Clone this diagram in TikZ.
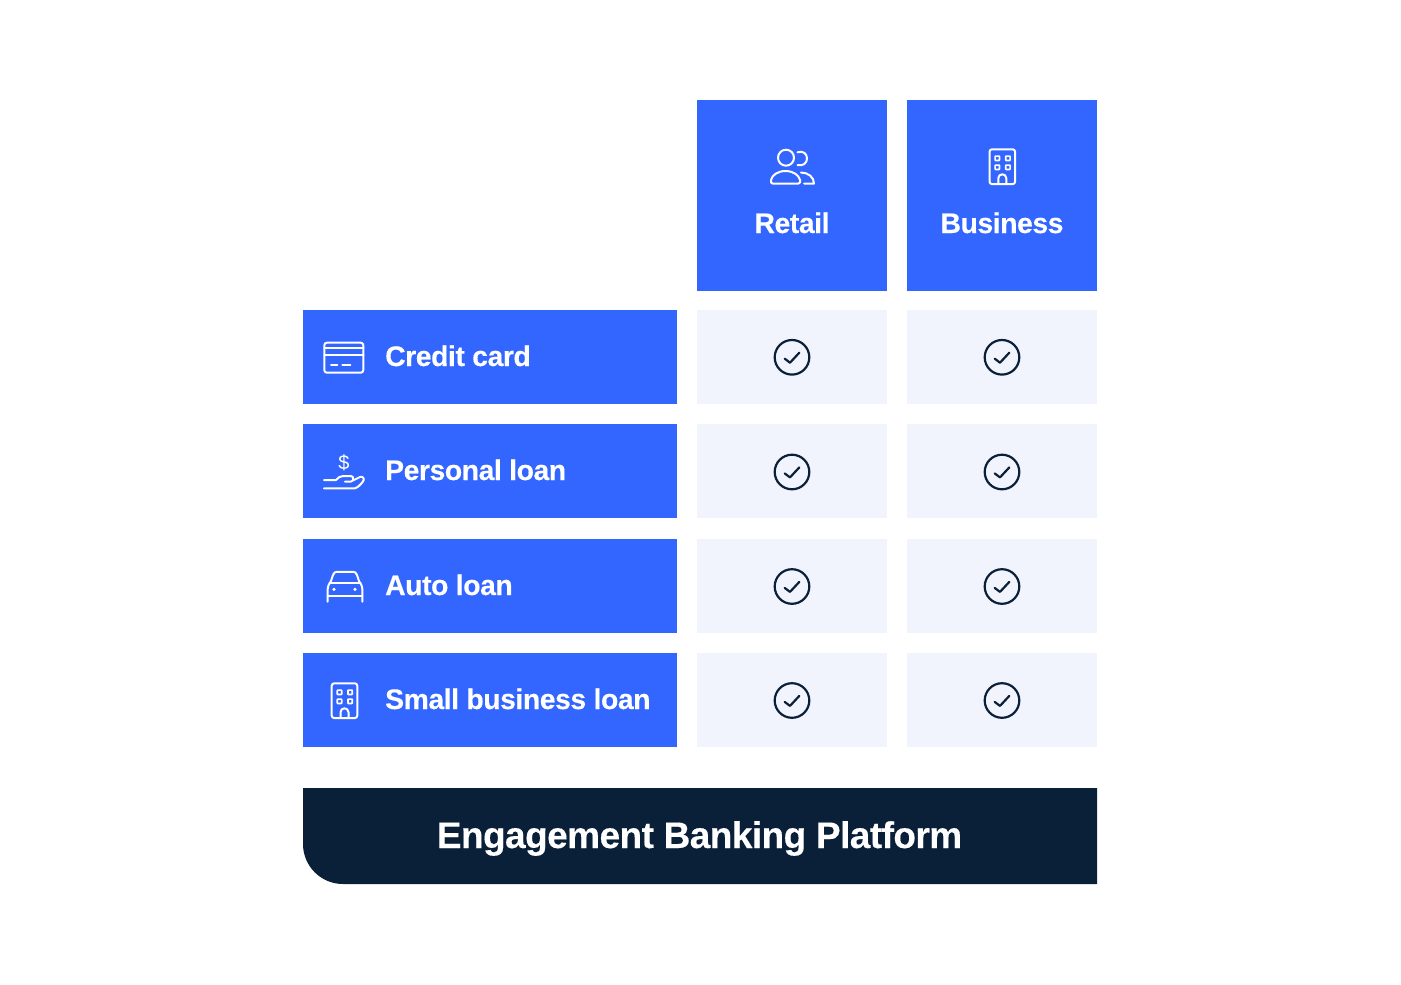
\documentclass[tikz,border=0pt]{standalone}
\usepackage{fontspec}
\setmainfont{Liberation Sans}[BoldFeatures={LetterSpace=-1.5,FakeBold=0.25}]
\definecolor{brandblue}{HTML}{3366FF}
\definecolor{cellgrey}{HTML}{F1F4FD}
\definecolor{navy}{HTML}{0A1F38}
\tikzset{
  headbox/.style={rectangle, anchor=north west, fill=brandblue, minimum width=190pt, minimum height=191pt, inner sep=0pt},
  rowbox/.style={rectangle, anchor=north west, fill=brandblue, minimum width=374pt, minimum height=94pt, inner sep=0pt},
  cellbox/.style={rectangle, anchor=north west, fill=cellgrey, minimum width=190pt, minimum height=94pt, inner sep=0pt},
  headlabel/.style={anchor=base, text=white, inner sep=0pt, font=\fontsize{28.3}{28}\selectfont\bfseries},
  rowlabel/.style={anchor=base west, text=white, inner sep=0pt, font=\fontsize{28.3}{28}\selectfont\bfseries},
  icon/.style={draw=white, line width=2pt, line cap=round, line join=round},
  pics/tick/.style={code={
    \draw[navy, line width=2.2pt] (0,0) circle (17.3pt);
    \draw[navy, line width=2.2pt, line cap=round, line join=round] (-7.3,1.4) -- (-2,5.4) -- (7.3,-4.6);
  }},
  pics/building/.style={code={
    \draw[icon, rounded corners=2.5pt] (-12.8,-17.4) rectangle (12.8,17.4);
    \draw[icon, line width=1.7pt, rounded corners=0.6pt] (-7.2,-10.6) rectangle ++(4.4,4.4);
    \draw[icon, line width=1.7pt, rounded corners=0.6pt] (3.4,-10.6) rectangle ++(4.4,4.4);
    \draw[icon, line width=1.7pt, rounded corners=0.6pt] (-7.2,-1.6) rectangle ++(4.4,4.4);
    \draw[icon, line width=1.7pt, rounded corners=0.6pt] (3.4,-1.6) rectangle ++(4.4,4.4);
    \draw[icon] (-4,17.4) -- (-4,11.5) .. controls (-4,9) and (-2,7.6) .. (0,7.6) .. controls (2,7.6) and (4,9) .. (4,11.5) -- (4,17.4);
  }}
}
\begin{document}
\begin{tikzpicture}[x=1pt, y=-1pt]
    \useasboundingbox (0,0) rectangle (1401,985);

    % Column heads.
    \node[headbox] (retail) at (697,100) {};
    \node[headbox] (business) at (907,100) {};
    \node[headlabel] (retail_text) at (792,233) {Retail};
    \node[headlabel] (business_text) at (1002,233) {Business};

    % Row boxes.
    \node[rowbox] (credit) at (303,310) {};
    \node[rowbox] (personal) at (303,424) {};
    \node[rowbox] (auto) at (303,539) {};
    \node[rowbox] (small) at (303,653) {};
    \node[rowlabel] (credit_text) at (385,366) {Credit card};
    \node[rowlabel] (personal_text) at (385,480) {Personal loan};
    \node[rowlabel] (auto_text) at (385,595) {Auto loan};
    \node[rowlabel] (small_text) at (385,709) {Small business loan};

    % Cells.
    \node[cellbox] (c_1_1) at (697,310) {};
    \node[cellbox] (c_1_2) at (907,310) {};
    \node[cellbox] (c_2_1) at (697,424) {};
    \node[cellbox] (c_2_2) at (907,424) {};
    \node[cellbox] (c_3_1) at (697,539) {};
    \node[cellbox] (c_3_2) at (907,539) {};
    \node[cellbox] (c_4_1) at (697,653) {};
    \node[cellbox] (c_4_2) at (907,653) {};

    % Ticks.
    \pic at (792,357.3) {tick};
    \pic at (1002,357.3) {tick};
    \pic at (792,472) {tick};
    \pic at (1002,472) {tick};
    \pic at (792,586.5) {tick};
    \pic at (1002,586.5) {tick};
    \pic at (792,700.5) {tick};
    \pic at (1002,700.5) {tick};

    % Retail icon.
    \draw[icon] (786,157.7) circle (8pt);
    \draw[icon] (797.5,152.3) .. controls (803,150.5) and (807,153.5) .. (807,158.5) .. controls (807,163) and (803,166.5) .. (797.5,165);
    \draw[icon] (772.5,183.5) -- (798.5,183.5) .. controls (800,183.5) and (800.5,182) .. (800,180) .. controls (799,175) and (793,171) .. (785.5,171) .. controls (778,171) and (772,175) .. (771,180) .. controls (770.5,182) and (771,183.5) .. (772.5,183.5) -- cycle;
    \draw[icon] (801,172.5) .. controls (808,172.5) and (814,177) .. (814,183.5) -- (804,183.5);

    % Building icons.
    \pic at (1002.3,166.7) {building};
    \pic at (344.5,700.7) {building};

    % Card icon.
    \draw[icon, rounded corners=2.5pt] (324.3,342.7) rectangle (363.3,372.7);
    \draw[icon] (324.3,347.6) -- (363.3,347.6);
    \draw[icon] (324.3,354.7) -- (363.3,354.7);
    \draw[icon] (331,365.3) -- (337.4,365.3);
    \draw[icon] (342.3,365.3) -- (350.3,365.3);

    % Hand icon.
    \node[text=white, inner sep=0pt, font=\fontsize{20}{20}\selectfont] (dollar) at (344,462.5) {\$};
    \draw[icon] (324,480) -- (336,480) .. controls (338.5,477.5) and (340,476) .. (343,476) -- (351,476) .. controls (354,476) and (354,481.5) .. (351,481.5) -- (345,481.5);
    \draw[icon] (354,480) -- (360,477) .. controls (363,476) and (365,479) .. (363,481.5) .. controls (361,484) and (358,487.5) .. (355,488.3) -- (324,488.3);

    % Car icon.
    \draw[icon] (327.7,601.7) -- (327.7,589) .. controls (327.7,585) and (330,583.5) .. (331,581) -- (333,575) .. controls (334,572.5) and (335,571.8) .. (337,571.8) -- (353,571.8) .. controls (355,571.8) and (356,572.5) .. (357,575) -- (359,581) .. controls (360,583.5) and (362.3,585) .. (362.3,589) -- (362.3,601.7);
    \draw[icon] (329.5,582.7) -- (360.5,582.7);
    \draw[icon] (327.7,596) -- (362.3,596);
    \fill[white] (334,589.3) circle (1.8pt);
    \fill[white] (355,589.3) circle (1.8pt);

    % Platform bar.
    \fill[navy] (1097,788) -- (303,788) [rounded corners=40pt] -- (303,884) [sharp corners] -- (1097,884) -- cycle;
    \node[text=white, anchor=base, inner sep=0pt, font=\fontsize{37}{37}\selectfont\bfseries] (platform) at (699.5,848) {Engagement Banking Platform};
\end{tikzpicture}
\end{document}
